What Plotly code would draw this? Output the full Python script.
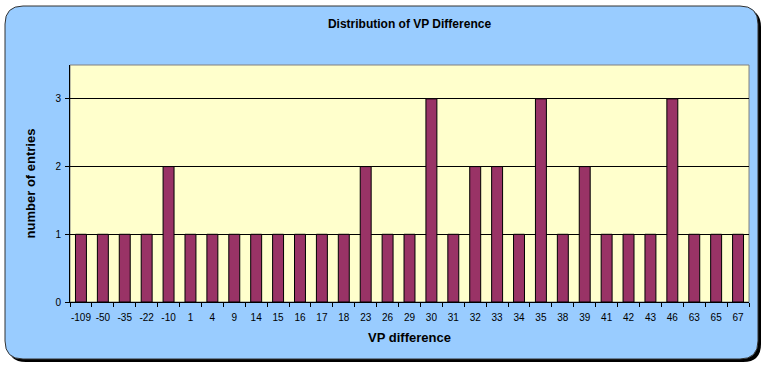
import plotly.graph_objects as go

categories = ["-109", "-50", "-35", "-22", "-10", "1", "4", "9", "14", "15", "16", "17", "18",
              "23", "26", "29", "30", "31", "32", "33", "34", "35", "38", "39", "41", "42",
              "43", "46", "63", "65", "67"]
entries = [1, 1, 1, 1, 2, 1, 1, 1, 1, 1, 1, 1, 1,
           2, 1, 1, 3, 1, 2, 2, 1, 3, 1, 2, 1, 1,
           1, 3, 1, 1, 1]
y_ticks = [0, 1, 2, 3]

W, H = 767, 369
ML, MR, MT, MB = 70, 18, 65, 67
PW, PH = W - ML - MR, H - MT - MB


def px(x):
    return (x - ML) / PW


def py(y):
    return (H - MB - y) / PH


def rounded(x0, y0, x1, y1, r):
    return (f"M {px(x0 + r)} {py(y0)} L {px(x1 - r)} {py(y0)} "
            f"Q {px(x1)} {py(y0)} {px(x1)} {py(y0 + r)} "
            f"L {px(x1)} {py(y1 - r)} Q {px(x1)} {py(y1)} {px(x1 - r)} {py(y1)} "
            f"L {px(x0 + r)} {py(y1)} Q {px(x0)} {py(y1)} {px(x0)} {py(y1 - r)} "
            f"L {px(x0)} {py(y0 + r)} Q {px(x0)} {py(y0)} {px(x0 + r)} {py(y0)} Z")


fig = go.Figure(go.Bar(
    x=categories, y=entries, width=0.5,
    marker=dict(color="#993366", line=dict(color="#000000", width=1)),
))

shapes = [
    dict(type="path", xref="paper", yref="paper", layer="below",
         path=rounded(8, 9, 761, 362, 18), fillcolor="#000000", line=dict(width=0)),
    dict(type="path", xref="paper", yref="paper", layer="below",
         path=rounded(5, 6, 758, 359, 18), fillcolor="#99CCFF",
         line=dict(color="#333333", width=1)),
    dict(type="rect", xref="paper", yref="paper", layer="below",
         x0=0, x1=1, y0=0, y1=1, fillcolor="#FFFFCC", line=dict(color="#808080", width=1)),
]

fig.update_layout(
    width=W, height=H,
    margin=dict(l=ML, r=MR, t=MT, b=MB),
    paper_bgcolor="#FFFFFF", plot_bgcolor="rgba(0,0,0,0)",
    shapes=shapes,
    showlegend=False,
    bargap=0.5,
    font=dict(family="Liberation Sans, Arial, sans-serif", color="#000000"),
    title=dict(text="<b>Distribution of VP Difference</b>", x=0.5, xref="paper",
               y=1 - 24 / H, yanchor="middle", font=dict(size=12)),
    xaxis=dict(type="category", categoryorder="array", categoryarray=categories,
               tickson="boundaries", ticks="outside", ticklen=4, tickcolor="#000000",
               showline=True, linecolor="#000000", linewidth=1,
               tickfont=dict(size=10), tickangle=0, ticklabelstandoff=6,
               title=dict(text="<b>VP difference</b>", font=dict(size=13), standoff=10),
               showgrid=False),
    yaxis=dict(range=[0, 3.5], tickvals=y_ticks, ticks="outside", ticklen=4,
               tickcolor="#000000", showline=True, linecolor="#000000", linewidth=1,
               tickfont=dict(size=10), showgrid=True, gridcolor="#000000", gridwidth=1,
               zeroline=False, ticklabelstandoff=2,
               title=dict(text="<b>number of entries</b>", font=dict(size=13), standoff=16)),
)

fig.write_html("out.html", config={"displayModeBar": False},
               post_script="document.body.style.margin='0';")
